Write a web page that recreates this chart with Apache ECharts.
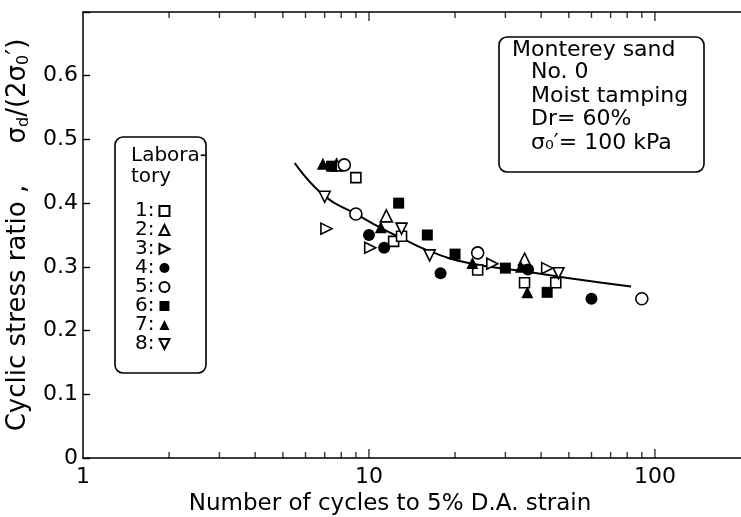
<!DOCTYPE html>
<html>
<head>
<meta charset="utf-8">
<script src="https://cdn.jsdelivr.net/npm/echarts@6/dist/echarts.min.js"></script>
<style>
html,body{margin:0;padding:0;background:#fff;}
#chart{width:741px;height:517px;}
</style>
</head>
<body>
<div id="chart"></div>
<script>
// 各实验室试验点 [循环次数, 循环应力比]
var lab1 = [[9, 0.44], [12.2, 0.34], [13, 0.348], [24, 0.295], [35, 0.275], [45, 0.275]];
var lab2 = [[7.7, 0.46], [11.5, 0.38], [35, 0.312]];
var lab3 = [[7.1, 0.36], [10.1, 0.33], [27, 0.305], [42, 0.298]];
var lab4 = [[10, 0.35], [11.3, 0.33], [17.8, 0.29], [36, 0.296], [60, 0.25]];
var lab5 = [[8.2, 0.46], [9, 0.383], [24, 0.322], [90, 0.25]];
var lab6 = [[7.4, 0.458], [12.7, 0.4], [16, 0.35], [20, 0.32], [30, 0.298], [42, 0.26]];
var lab7 = [[6.9, 0.462], [11, 0.362], [23, 0.306], [34, 0.3], [35.8, 0.26]];
var lab8 = [[7, 0.41], [13, 0.36], [16.3, 0.318], [46, 0.29]];

// 拟合曲线
var fitCurve = [[5.5, 0.463], [7, 0.411], [9, 0.383], [11, 0.361], [13, 0.345], [16.2, 0.325],
  [22.3, 0.306], [36.3, 0.292], [54, 0.28], [82.5, 0.269]];

// 坐标刻度
var xMajorTicks = [10, 100];
var xMinorTicks = [2, 3, 4, 5, 6, 7, 8, 9, 20, 30, 40, 50, 60, 70, 80, 90];
var xTickLabels = [1, 10, 100];
var yTickLabels = ['0', '0.1', '0.2', '0.3', '0.4', '0.5', '0.6'];

var labNames = ['1', '2', '3', '4', '5', '6', '7', '8'];
var FONT = 'DejaVu Sans';

// 右向三角、倒三角
var TRI_RIGHT = 'path://M0,0 L10,5 L0,10 Z';
var TRI_DOWN = 'path://M0,0 L10,0 L5,10 Z';

var chart = echarts.init(document.getElementById('chart'));

function labSeries(name, data, symbol, size, filled) {
  return {
    name: name,
    type: 'scatter',
    data: data,
    symbol: symbol,
    symbolSize: size,
    clip: false,
    z: 5,
    itemStyle: {
      color: filled ? '#000' : '#fff',
      borderColor: '#000',
      borderWidth: filled ? 0 : 1.6,
      opacity: 1
    }
  };
}

function tickSeries(data, y, len, dir) {
  return {
    type: 'scatter',
    silent: true,
    clip: false,
    data: data.map(function (v) { return [v, y]; }),
    symbol: 'rect',
    symbolSize: [1.4, len],
    symbolOffset: [0, dir * len / 2],
    itemStyle: { color: '#000' },
    z: 3
  };
}

var option = {
  animation: false,
  backgroundColor: '#fff',
  textStyle: { fontFamily: FONT, color: '#000' },
  grid: { left: 83, right: 0, top: 12, bottom: 59, containLabel: false, outerBoundsMode: 'none' },
  legend: {
    data: labNames,
    orient: 'vertical',
    left: 130,
    top: 196,
    align: 'right',
    itemGap: -1,
    itemWidth: 10,
    itemHeight: 10,
    selectedMode: false,
    formatter: function (n) { return n + ':'; },
    textStyle: { fontFamily: FONT, fontSize: 20, lineHeight: 18, color: '#000' }
  },
  xAxis: [{
    type: 'log',
    logBase: 10,
    min: 1,
    max: 200,
    name: 'Number of cycles to 5% D.A. strain',
    nameLocation: 'middle',
    nameGap: 31,
    nameTextStyle: { fontFamily: FONT, fontSize: 23, color: '#000', padding: [0, 44, 0, 0] },
    axisLine: { lineStyle: { color: '#000', width: 1.5 } },
    axisTick: { show: false },
    splitLine: { show: false },
    axisLabel: {
      fontFamily: FONT, fontSize: 22, color: '#000', margin: 8,
      showMaxLabel: false,
      formatter: function (v) { return xTickLabels.indexOf(Math.round(v)) >= 0 ? String(Math.round(v)) : ''; }
    }
  }, {
    type: 'log',
    logBase: 10,
    min: 1,
    max: 200,
    position: 'top',
    axisLine: { show: true, lineStyle: { color: '#000', width: 1.5 } },
    axisTick: { show: false },
    axisLabel: { show: false },
    splitLine: { show: false }
  }],
  yAxis: {
    type: 'value',
    min: 0,
    max: 0.7,
    interval: 0.1,
    name: '{t|Cyclic stress ratio ,     σ}{s|d}{t|/(2σ}{s|0}{t|′)}',
    nameLocation: 'middle',
    nameGap: 47,
    nameTextStyle: {
      rich: {
        t: { fontFamily: FONT, fontSize: 26, color: '#000' },
        s: { fontFamily: FONT, fontSize: 16, color: '#000', padding: [11, 0, 0, 0] }
      }
    },
    axisLine: { show: true, lineStyle: { color: '#000', width: 1.5 } },
    axisTick: { show: true, inside: true, length: 7, lineStyle: { color: '#000', width: 1.4 } },
    splitLine: { show: false },
    axisLabel: {
      fontFamily: FONT, fontSize: 22, color: '#000', margin: 5,
      formatter: function (v) {
        var i = Math.round(v * 10);
        return i < yTickLabels.length ? yTickLabels[i] : '';
      }
    }
  },
  graphic: [
    {
      type: 'rect',
      shape: { x: 115, y: 137, width: 91, height: 236, r: 8 },
      style: { fill: 'none', stroke: '#000', lineWidth: 1.6 }
    },
    {
      type: 'text',
      left: 131, top: 145,
      style: { text: 'Labora-\ntory', font: '20px "DejaVu Sans"', lineHeight: 21, fill: '#000' }
    },
    {
      type: 'rect',
      shape: { x: 499, y: 37, width: 205, height: 135, r: 8 },
      style: { fill: '#fff', stroke: '#000', lineWidth: 1.6 }
    },
    {
      type: 'text',
      left: 512, top: 39,
      style: { text: 'Monterey sand', font: '22px "DejaVu Sans"', fill: '#000' }
    },
    {
      type: 'text',
      left: 531, top: 61,
      style: {
        text: 'No. 0\nMoist tamping\nDr= 60%\nσ₀′= 100 kPa',
        font: '22px "DejaVu Sans"', lineHeight: 23.5, fill: '#000'
      }
    }
  ],
  series: [
    labSeries('1', lab1, 'rect', 10, false),
    labSeries('2', lab2, 'triangle', 12, false),
    labSeries('3', lab3, TRI_RIGHT, 11, false),
    labSeries('4', lab4, 'circle', 12, true),
    labSeries('5', lab5, 'circle', 12, false),
    labSeries('6', lab6, 'rect', 11, true),
    labSeries('7', lab7, 'triangle', 12, true),
    labSeries('8', lab8, TRI_DOWN, 11, false),
    {
      type: 'line',
      data: fitCurve,
      smooth: true,
      showSymbol: false,
      silent: true,
      lineStyle: { color: '#000', width: 2 },
      z: 4
    },
    tickSeries(xMajorTicks, 0, 9, -1),
    tickSeries(xMinorTicks, 0, 6, -1),
    tickSeries(xMajorTicks, 0.7, 9, 1),
    tickSeries(xMinorTicks, 0.7, 6, 1)
  ]
};

chart.setOption(option);
</script>
</body>
</html>
